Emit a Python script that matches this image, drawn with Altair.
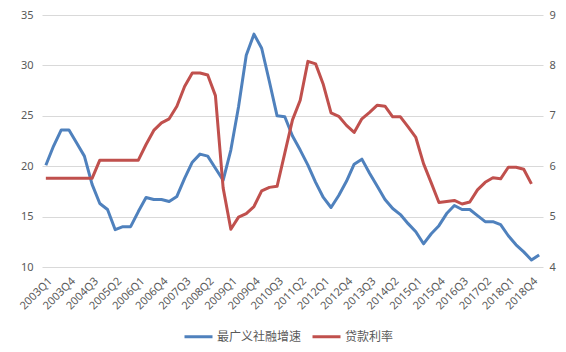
import altair as alt
import pandas as pd

quarters = [f"{y}Q{q}" for y in range(2003, 2020) for q in range(1, 5)][:65]

series_names = ["最广义社融增速", "贷款利率"]

tsf_growth = [20.1, 22.0, 23.6, 23.6, 22.3, 21.0, 18.2, 16.3, 15.7, 13.7,
              14.0, 14.0, 15.5, 16.9, 16.7, 16.7, 16.5, 17.0, 18.8, 20.4,
              21.2, 21.0, 19.8, 18.6, 21.6, 25.9, 31.0, 33.1, 31.7, 28.4,
              25.0, 24.9, 23.0, 21.6, 20.1, 18.4, 16.9, 15.9, 17.1, 18.5,
              20.2, 20.7, 19.3, 18.0, 16.7, 15.8, 15.2, 14.3, 13.5, 12.3,
              13.3, 14.1, 15.3, 16.1, 15.7, 15.7, 15.1, 14.5, 14.5, 14.2,
              13.1, 12.2, 11.5, 10.7, 11.2]

loan_rate = [5.76, 5.76, 5.76, 5.76, 5.76, 5.76, 5.76, 6.12, 6.12, 6.12,
             6.12, 6.12, 6.12, 6.43, 6.71, 6.86, 6.94, 7.19, 7.58, 7.85,
             7.85, 7.81, 7.40, 5.57, 4.75, 4.99, 5.06, 5.20, 5.51, 5.58,
             5.60, 6.26, 6.92, 7.31, 8.08, 8.03, 7.62, 7.06, 6.99, 6.81,
             6.67, 6.94, 7.07, 7.21, 7.19, 6.98, 6.98, 6.78, 6.57, 6.05,
             5.67, 5.28, 5.30, 5.32, 5.25, 5.29, 5.53, 5.68, 5.77, 5.75,
             5.98, 5.98, 5.94, 5.65]

left_ticks = [10, 15, 20, 25, 30, 35]
right_ticks = [4, 5, 6, 7, 8, 9]
colors = ["#4F81BD", "#C0504D"]

rows = []
for q, v in zip(quarters, tsf_growth):
    rows.append({"q": q, "v": v, "s": series_names[0]})
for q, v in zip(quarters, loan_rate):
    rows.append({"q": q, "v": v, "s": series_names[1]})
df = pd.DataFrame(rows)

FONT = "Noto Sans"
CJK = "Noto Sans CJK SC"
GRAY = "#595959"
GRID = "#D9D9D9"

x_enc = alt.X(
    "q:O",
    sort=quarters,
    scale=alt.Scale(type="point", domain=quarters, padding=0.5),
    axis=alt.Axis(
        values=quarters[::3], labelAngle=-45, grid=False, ticks=False,
        domain=False, labelColor=GRAY, labelFont=FONT, labelFontSize=11,
        labelPadding=8, title=None, labelOverlap=False,
    ),
)

color_enc = alt.Color(
    "s:N",
    scale=alt.Scale(domain=series_names, range=colors),
    legend=alt.Legend(
        orient="none", legendX=141, legendY=306, direction="horizontal",
        title=None, symbolType="stroke", symbolSize=784, symbolStrokeWidth=3,
        labelFont=CJK, labelFontSize=12, labelColor=GRAY, columnPadding=4,
        labelOffset=3, padding=0,
    ),
)

base = alt.Chart(df)

left = base.transform_filter(alt.datum.s == series_names[0]).mark_line(
    strokeWidth=3, strokeJoin="round"
).encode(
    x=x_enc,
    y=alt.Y(
        "v:Q",
        scale=alt.Scale(domain=[10, 35], nice=False, zero=False),
        axis=alt.Axis(
            values=left_ticks, grid=True, gridColor=GRID, gridWidth=1,
            domain=False, ticks=False, labelColor=GRAY, labelFont=FONT,
            labelFontSize=11, labelPadding=9, title=None,
        ),
    ),
    color=color_enc,
)

right = base.transform_filter(alt.datum.s == series_names[1]).mark_line(
    strokeWidth=3, strokeJoin="round"
).encode(
    x=x_enc,
    y=alt.Y(
        "v:Q",
        scale=alt.Scale(domain=[4, 9], nice=False, zero=False),
        axis=alt.Axis(
            orient="right", values=right_ticks, grid=False, domain=False,
            ticks=False, labelColor=GRAY, labelFont=FONT, labelFontSize=11,
            labelPadding=6, title=None,
        ),
    ),
    color=color_enc,
)

chart = alt.layer(left, right).resolve_scale(y="independent").properties(
    width=501, height=252,
    padding={"left": 42, "top": 15, "right": 23, "bottom": 85},
    autosize=alt.AutoSizeParams(type="none"),
    background="white",
).configure_view(stroke=None)

chart.save("out.html", embed_options={"renderer": "svg", "actions": False})
